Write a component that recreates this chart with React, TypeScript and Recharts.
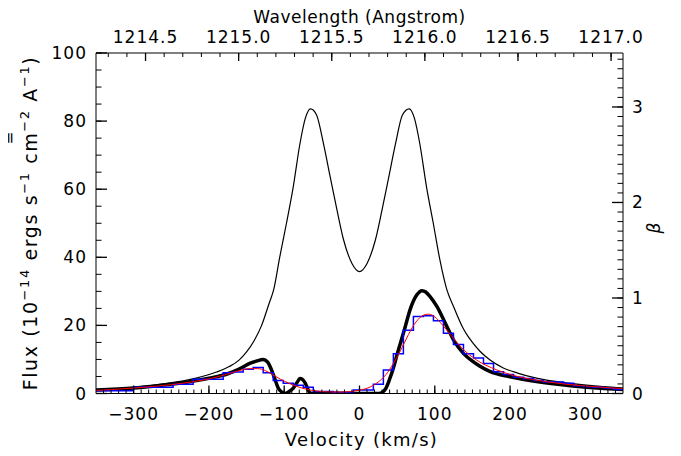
import React from 'react'
import { LineChart, Line, XAxis, YAxis } from 'recharts'

const W = 665
const H = 448
const PL = 88
const PR = 615
const PT = 45
const PB = 385.5
const FONT = 'DejaVu Sans, sans-serif'

// intrinsic (unabsorbed) profile - thin black
const intrinsicVel = [-350, -300, -260, -217, -190, -173, -160, -150, -140, -130, -120, -114, -106, -97, -88, -79, -72, -65, -57, -48, -39, -30, -21, -10, 0, 10, 21, 30, 39, 48, 57, 66, 73, 80, 89, 98, 107, 116, 125, 138, 142, 150, 160, 173, 191, 210, 235, 280, 324, 350]
const intrinsicFlux = [1.0, 1.8, 2.8, 4.5, 6.3, 7.9, 9.8, 12.2, 15.5, 20.0, 26.5, 30.5, 40.0, 50.0, 60.7, 73.5, 80.8, 83.6, 81.8, 73.5, 63.7, 54.0, 45.0, 38.2, 35.8, 38.2, 45.0, 54.0, 63.7, 73.5, 81.8, 83.6, 80.8, 73.5, 60.7, 50.0, 39.0, 30.5, 25.5, 19.0, 17.5, 15.0, 12.4, 9.9, 7.5, 6.0, 4.5, 3.0, 2.0, 1.6]

// absorbed profile - thick black
const absorbedVel = [-350, -300, -260, -220, -200, -175, -160, -145, -137, -128, -122, -117, -112, -108, -103, -99, -94, -88, -83, -79, -76, -72, -69, -66, -63, -30, 0, 26, 30, 35, 40, 45, 50, 55, 60, 67, 76, 83, 88, 94, 103, 114, 125, 138, 150, 160, 173, 200, 235, 280, 325, 350]
const absorbedFlux = [1.0, 1.6, 2.5, 3.7, 4.5, 5.8, 7.2, 8.9, 9.5, 10.0, 9.2, 7.0, 4.0, 1.6, 0.4, 0.0, 0.5, 1.6, 3.2, 4.4, 4.2, 3.0, 1.5, 0.2, 0, 0, 0, 0, 0.3, 1.5, 4.2, 7.5, 11.5, 15.3, 19.0, 24.5, 28.9, 30.2, 29.8, 28.4, 25.5, 20.6, 15.7, 11.8, 9.5, 8.0, 6.5, 4.9, 3.5, 2.3, 1.5, 1.2]

// convolved model - red
const modelVel = [-350, -300, -250, -220, -200, -180, -160, -145, -135, -125, -115, -105, -95, -85, -75, -65, -50, -35, -20, -5, 5, 15, 25, 35, 45, 55, 65, 75, 85, 92, 100, 110, 120, 130, 140, 150, 160, 175, 190, 210, 230, 250, 275, 300, 325, 350]
const modelFlux = [0.9, 1.6, 2.6, 3.5, 4.3, 5.4, 6.7, 7.3, 7.3, 6.7, 5.5, 4.2, 3.1, 2.2, 1.5, 1.0, 0.6, 0.45, 0.45, 0.8, 1.2, 2.0, 3.4, 5.5, 8.8, 12.8, 17.3, 21.0, 23.0, 23.3, 22.5, 20.2, 17.5, 14.8, 12.5, 10.7, 9.2, 7.6, 6.3, 5.0, 4.1, 3.4, 2.7, 2.2, 1.8, 1.4]

// observed spectrum - blue histogram (bin edges, one value per bin)
const binEdges = [-354.0, -340.7, -327.4, -314.1, -300.8, -287.5, -274.2, -260.9, -247.6, -234.3, -221.0, -207.7, -194.4, -181.1, -167.8, -154.5, -141.2, -127.9, -114.6, -101.3, -88.0, -74.7, -61.4, -48.1, -34.8, -21.5, -8.2, 5.1, 18.4, 31.7, 45.0, 58.3, 71.6, 84.9, 98.2, 111.5, 124.8, 138.1, 151.4, 164.7, 178.0, 191.3, 204.6, 217.9, 231.2, 244.5, 257.8, 271.1, 284.4, 297.7, 311.0, 324.3, 337.6, 350.9]
const observedFlux = [0.8, 0.8, 0.8, 0.8, 1.8, 1.8, 1.8, 1.8, 2.7, 2.7, 4.2, 4.2, 4.2, 6.1, 6.3, 7.1, 7.6, 6.1, 3.8, 3.0, 2.4, 1.8, 0.6, 0.6, 0.35, 0.35, 1.0, 1.0, 2.7, 6.9, 11.7, 18.6, 22.6, 22.8, 21.4, 17.7, 14.4, 11.7, 10.4, 8.8, 6.4, 5.6, 4.8, 4.4, 3.8, 3.4, 3.4, 3.0, 2.3, 2.0, 1.8, 1.6, 1.2]

const velMajor = [-300, -200, -100, 0, 100, 200, 300]
const fluxMajor = [0, 20, 40, 60, 80, 100]
const waveMajor = [1214.5, 1215.0, 1215.5, 1216.0, 1216.5, 1217.0]
const betaMajor = [0, 1, 2, 3]

const velDomain = [-350, 350]
const fluxDomain = [0, 100]
const waveDomain = [1214.234, 1217.064]
const betaDomain = [0, 3.565]

const velTicks = Array.from({ length: 69 }, (_, i) => -340 + i * 10)
const fluxTicks = Array.from({ length: 21 }, (_, i) => i * 5)
const waveTicks = Array.from({ length: 28 }, (_, i) => Math.round((1214.3 + i * 0.1) * 10) / 10)
const betaTicks = Array.from({ length: 36 }, (_, i) => i / 10)

const rows = (xs: number[], ys: number[]) => xs.map((v, i) => ({ v, f: ys[i] }))
const intrinsicData = rows(intrinsicVel, intrinsicFlux)
const absorbedData = rows(absorbedVel, absorbedFlux)
const modelData = rows(modelVel, modelFlux)
const observedData = binEdges.map((v, i) => ({ v, f: observedFlux[Math.min(i, observedFlux.length - 1)] }))
const anchorData = [{ wl: waveDomain[0], b: 0 }, { wl: waveDomain[1], b: 0 }]

const isMajor = (list: number[], val: number) => list.some((m) => Math.abs(m - val) < 1e-6)
const minus = (s: string) => s.replace('-', '\u2212')

const labelStyle = { fontFamily: FONT, fontSize: 17, fill: '#000' }
const TICK = '#000'
const TW = 1.3
const tickLineProps = { stroke: '#000', strokeWidth: 1 }

const BottomTick = (props: any) => {
  const { x, payload } = props
  const major = isMajor(velMajor, payload.value)
  return (
    <g>
      {major && <line x1={x} x2={x} y1={PB} y2={PB - 8} stroke={TICK} strokeWidth={TW} />}
      {major && (
        <text x={x} y={PB + 26} textAnchor="middle" style={labelStyle} letterSpacing={1}>
          {minus(String(payload.value))}
        </text>
      )}
    </g>
  )
}

const TopTick = (props: any) => {
  const { x, payload } = props
  const major = isMajor(waveMajor, payload.value)
  return (
    <g>
      {major && <line x1={x} x2={x} y1={PT} y2={PT + 8} stroke={TICK} strokeWidth={TW} />}
      {major && (
        <text x={x} y={PT - 10} textAnchor="middle" style={labelStyle} letterSpacing={1}>
          {payload.value.toFixed(1)}
        </text>
      )}
    </g>
  )
}

const LeftTick = (props: any) => {
  const { y, payload } = props
  const major = isMajor(fluxMajor, payload.value)
  return (
    <g>
      {major && <line x1={PL} x2={PL + 11} y1={y} y2={y} stroke={TICK} strokeWidth={TW} />}
      {major && (
        <text x={PL - 9} y={y + 6} textAnchor="end" style={labelStyle} letterSpacing={1}>
          {payload.value}
        </text>
      )}
    </g>
  )
}

const RightTick = (props: any) => {
  const { y, payload } = props
  const major = isMajor(betaMajor, payload.value)
  return (
    <g>
      {major && <line x1={PR} x2={PR - 11} y1={y} y2={y} stroke={TICK} strokeWidth={TW} />}
      {major && (
        <text x={PR + 9} y={y + 6} textAnchor="start" style={labelStyle}>
          {payload.value}
        </text>
      )}
    </g>
  )
}

export default function App() {
  const sup = { fontSize: 13 }
  return (
    <div style={{ position: 'relative', width: W, height: H }}>
      <svg width={W} height={H} style={{ position: 'absolute', left: 0, top: 0, overflow: 'visible' }}>
        <text x={(PL + PR) / 2 + 2} y={438} textAnchor="middle" style={{ ...labelStyle, fontSize: 18 }} letterSpacing={1.3}>
          Velocity (km/s)
        </text>
        <text x={(PL + PR) / 2} y={15} textAnchor="middle" style={labelStyle} letterSpacing={0.5}>
          Wavelength (Angstrom)
        </text>
        <text transform="rotate(-90)" x={-215} y={29} textAnchor="middle" style={{ ...labelStyle, fontSize: 19 }} letterSpacing={1.6}>
          Flux (10<tspan dy={-8} style={sup}>{'\u221214'}</tspan>
          <tspan dy={8}> ergs s</tspan><tspan dy={-8} style={sup}>{'\u22121'}</tspan>
          <tspan dy={8}> cm</tspan><tspan dy={-8} style={sup}>{'\u22122'}</tspan>
          <tspan dy={8}> A</tspan><tspan dy={-8} style={sup}>{'\u22121'}</tspan>
          <tspan dy={8}>)</tspan>
        </text>
        <text transform="rotate(-90)" x={-130} y={7} textAnchor="middle" style={{ ...labelStyle, fontSize: 15 }}>=</text>
        <text transform="rotate(-90)" x={-220} y={652} textAnchor="middle" style={{ ...labelStyle, fontStyle: 'italic' }}>
          β
        </text>
      </svg>
      <LineChart width={W} height={H} margin={{ top: 15, right: 0, bottom: 32.5, left: 28 }}>
        <XAxis xAxisId="bottom" dataKey="v" type="number" orientation="bottom" domain={velDomain}
          allowDataOverflow ticks={velTicks} interval={0} tick={BottomTick} tickLine={tickLineProps}
          tickSize={-4} axisLine={{ stroke: '#000' }} height={30} />
        <XAxis xAxisId="top" dataKey="wl" type="number" orientation="top" domain={waveDomain}
          allowDataOverflow ticks={waveTicks} interval={0} tick={TopTick} tickLine={tickLineProps}
          tickSize={-4} axisLine={{ stroke: '#000' }} height={30} />
        <YAxis yAxisId="left" type="number" orientation="left" domain={fluxDomain}
          allowDataOverflow ticks={fluxTicks} interval={0} tick={LeftTick} tickLine={tickLineProps}
          tickSize={-5.5} axisLine={{ stroke: '#000' }} width={60} />
        <YAxis yAxisId="right" type="number" orientation="right" domain={betaDomain}
          allowDataOverflow ticks={betaTicks} interval={0} tick={RightTick} tickLine={tickLineProps}
          tickSize={-5.5} axisLine={{ stroke: '#000' }} width={50} />
        <Line data={anchorData} xAxisId="top" yAxisId="right" dataKey="b" stroke="none"
          dot={false} isAnimationActive={false} />
        <Line data={intrinsicData} xAxisId="bottom" yAxisId="left" dataKey="f" type="monotone"
          stroke="#000" strokeWidth={1.2} dot={false} isAnimationActive={false} />
        <Line data={absorbedData} xAxisId="bottom" yAxisId="left" dataKey="f" type="monotone"
          stroke="#000" strokeWidth={3.5} dot={false} isAnimationActive={false} />
        <Line data={observedData} xAxisId="bottom" yAxisId="left" dataKey="f" type="stepAfter"
          stroke="#0000ff" strokeWidth={1.5} dot={false} isAnimationActive={false} />
        <Line data={modelData} xAxisId="bottom" yAxisId="left" dataKey="f" type="monotone"
          stroke="#ff0000" strokeWidth={1} dot={false} isAnimationActive={false} />
      </LineChart>
    </div>
  )
}
